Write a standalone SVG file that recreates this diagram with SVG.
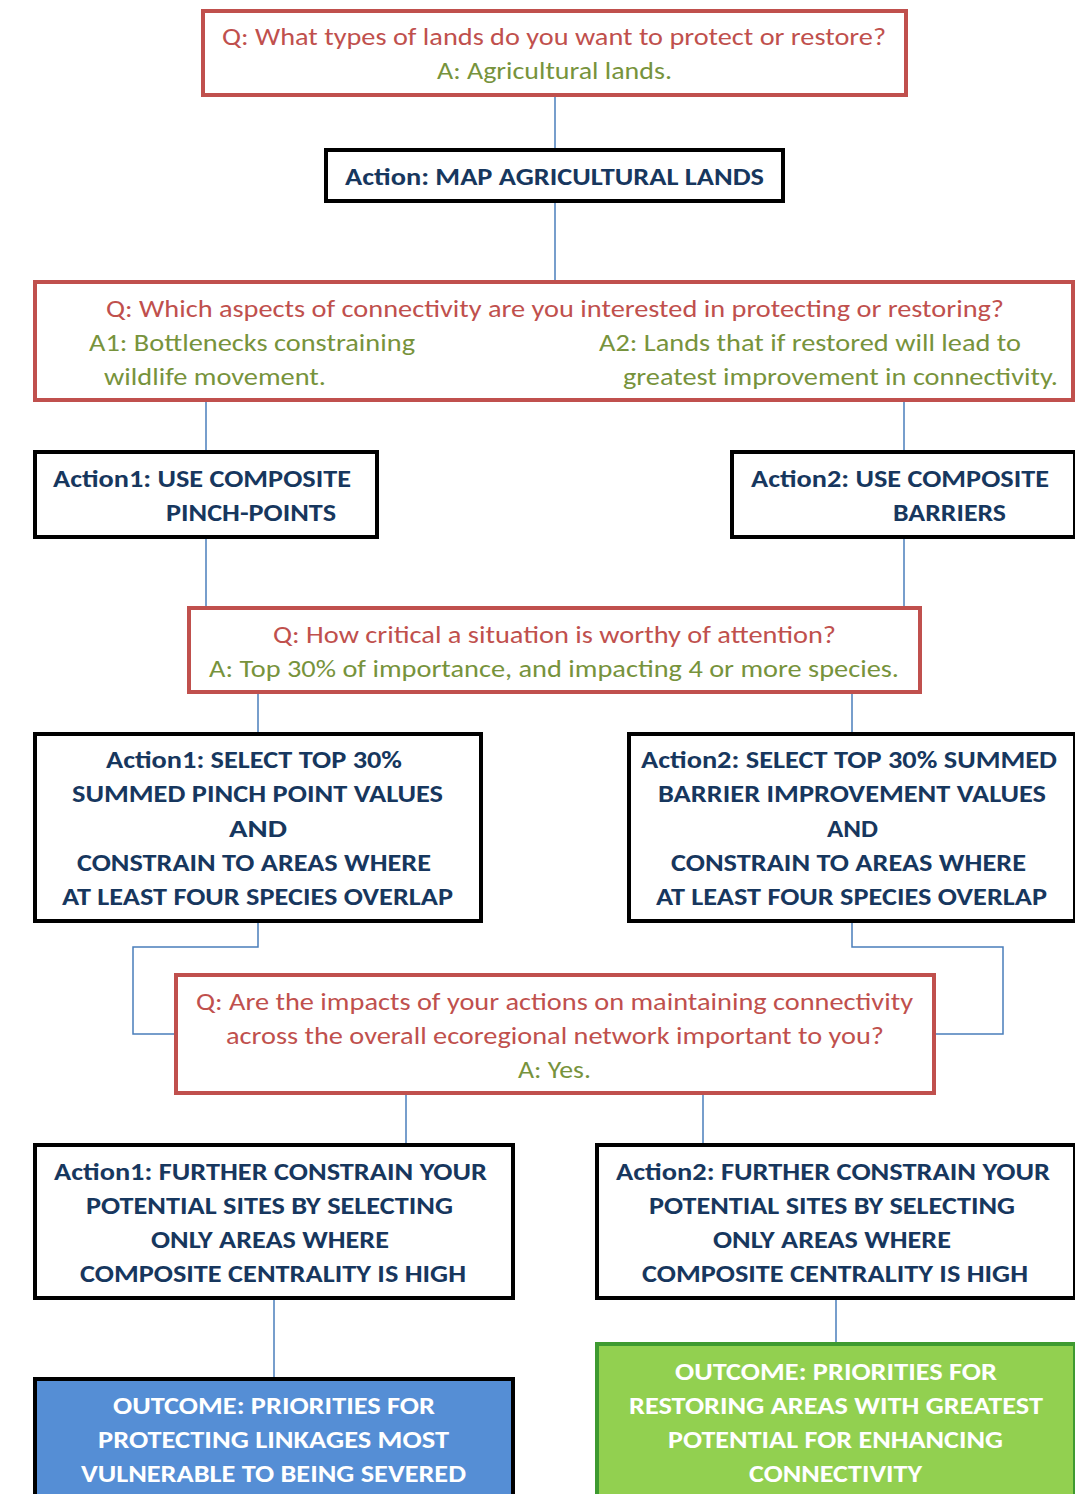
<svg xmlns="http://www.w3.org/2000/svg" width="1075" height="1494" viewBox="0 0 1075 1494">
<style>
text{font-family:Carlito,Lato,"Open Sans",sans-serif;font-size:25px}
.q{fill:#C0504D}
.a{fill:#77933C}
.b{fill:#17375E;font-weight:bold}
.w{fill:#FFFFFF;font-weight:bold}
.rb{fill:#FFFFFF;stroke:#C0504D;stroke-width:4}
.kb{fill:#FFFFFF;stroke:#000000;stroke-width:4}
.c{fill:none;stroke:#4A7EBB;stroke-width:1.5}
</style>
<rect width="1075" height="1494" fill="#FFFFFF"/>
<g id="connectors">
<line class="c" x1="555" y1="96" x2="555" y2="149"/>
<line class="c" x1="555" y1="202" x2="555" y2="281"/>
<line class="c" x1="206" y1="401" x2="206" y2="451"/>
<line class="c" x1="904" y1="401" x2="904" y2="451"/>
<line class="c" x1="206" y1="538" x2="206" y2="607"/>
<line class="c" x1="904" y1="538" x2="904" y2="607"/>
<line class="c" x1="258" y1="693" x2="258" y2="733"/>
<line class="c" x1="852" y1="693" x2="852" y2="733"/>
<polyline class="c" points="258,922 258,947 133,947 133,1034 175,1034"/>
<polyline class="c" points="852,922 852,947 1003,947 1003,1034 935,1034"/>
<line class="c" x1="406" y1="1094" x2="406" y2="1144"/>
<line class="c" x1="703" y1="1094" x2="703" y2="1144"/>
<line class="c" x1="274" y1="1299" x2="274" y2="1378"/>
<line class="c" x1="836" y1="1299" x2="836" y2="1343"/>
</g>
<g id="q1">
<rect class="rb" x="203" y="11" width="703" height="84"/>
<text class="q" x="222" y="45" textLength="664" lengthAdjust="spacingAndGlyphs">Q: What types of lands do you want to protect or restore?</text>
<text class="a" x="437" y="79" textLength="235" lengthAdjust="spacingAndGlyphs">A: Agricultural lands.</text>
</g>
<g id="action0">
<rect class="kb" x="326" y="150" width="457" height="51"/>
<text class="b" x="345" y="185" textLength="419" lengthAdjust="spacingAndGlyphs">Action: MAP AGRICULTURAL LANDS</text>
</g>
<g id="q2">
<rect class="rb" x="35" y="282" width="1038" height="118"/>
<text class="q" x="106" y="317" textLength="898" lengthAdjust="spacingAndGlyphs">Q: Which aspects of connectivity are you interested in protecting or restoring?</text>
<text class="a" x="89" y="351" textLength="326" lengthAdjust="spacingAndGlyphs">A1: Bottlenecks constraining</text>
<text class="a" x="104" y="385" textLength="222" lengthAdjust="spacingAndGlyphs">wildlife movement.</text>
<text class="a" x="599" y="351" textLength="422" lengthAdjust="spacingAndGlyphs">A2: Lands that if restored will lead to</text>
<text class="a" x="623" y="385" textLength="435" lengthAdjust="spacingAndGlyphs">greatest improvement in connectivity.</text>
</g>
<g id="action1a">
<rect class="kb" x="35" y="452" width="342" height="85"/>
<text class="b" x="53" y="487" textLength="298" lengthAdjust="spacingAndGlyphs">Action1: USE COMPOSITE</text>
<text class="b" x="166" y="521" textLength="170" lengthAdjust="spacingAndGlyphs">PINCH-POINTS</text>
</g>
<g id="action2a">
<rect class="kb" x="732" y="452" width="343" height="85"/>
<text class="b" x="751" y="487" textLength="298" lengthAdjust="spacingAndGlyphs">Action2: USE COMPOSITE</text>
<text class="b" x="893" y="521" textLength="113" lengthAdjust="spacingAndGlyphs">BARRIERS</text>
</g>
<g id="q3">
<rect class="rb" x="189" y="608" width="731" height="84"/>
<text class="q" x="273" y="643" textLength="563" lengthAdjust="spacingAndGlyphs">Q: How critical a situation is worthy of attention?</text>
<text class="a" x="209" y="677" textLength="690" lengthAdjust="spacingAndGlyphs">A: Top 30% of importance, and impacting 4 or more species.</text>
</g>
<g id="action1b">
<rect class="kb" x="35" y="734" width="446" height="187"/>
<text class="b" x="106" y="768" textLength="296" lengthAdjust="spacingAndGlyphs">Action1: SELECT TOP 30%</text>
<text class="b" x="72" y="802" textLength="371" lengthAdjust="spacingAndGlyphs">SUMMED PINCH POINT VALUES</text>
<text class="b" x="229" y="837" textLength="58" lengthAdjust="spacingAndGlyphs">AND</text>
<text class="b" x="77" y="871" textLength="354" lengthAdjust="spacingAndGlyphs">CONSTRAIN TO AREAS WHERE</text>
<text class="b" x="62" y="905" textLength="391" lengthAdjust="spacingAndGlyphs">AT LEAST FOUR SPECIES OVERLAP</text>
</g>
<g id="action2b">
<rect class="kb" x="629" y="734" width="446" height="187"/>
<text class="b" x="641" y="768" textLength="416" lengthAdjust="spacingAndGlyphs">Action2: SELECT TOP 30% SUMMED</text>
<text class="b" x="658" y="802" textLength="388" lengthAdjust="spacingAndGlyphs">BARRIER IMPROVEMENT VALUES</text>
<text class="b" x="827" y="837" textLength="51" lengthAdjust="spacingAndGlyphs">AND</text>
<text class="b" x="671" y="871" textLength="355" lengthAdjust="spacingAndGlyphs">CONSTRAIN TO AREAS WHERE</text>
<text class="b" x="656" y="905" textLength="391" lengthAdjust="spacingAndGlyphs">AT LEAST FOUR SPECIES OVERLAP</text>
</g>
<g id="q4">
<rect class="rb" x="176" y="975" width="758" height="118"/>
<text class="q" x="196" y="1010" textLength="717" lengthAdjust="spacingAndGlyphs">Q: Are the impacts of your actions on maintaining connectivity</text>
<text class="q" x="226" y="1044" textLength="658" lengthAdjust="spacingAndGlyphs">across the overall ecoregional network important to you?</text>
<text class="a" x="518" y="1078" textLength="73" lengthAdjust="spacingAndGlyphs">A: Yes.</text>
</g>
<g id="action1c">
<rect class="kb" x="35" y="1145" width="478" height="153"/>
<text class="b" x="54" y="1180" textLength="433" lengthAdjust="spacingAndGlyphs">Action1: FURTHER CONSTRAIN YOUR</text>
<text class="b" x="86" y="1214" textLength="367" lengthAdjust="spacingAndGlyphs">POTENTIAL SITES BY SELECTING</text>
<text class="b" x="151" y="1248" textLength="238" lengthAdjust="spacingAndGlyphs">ONLY AREAS WHERE</text>
<text class="b" x="80" y="1282" textLength="386" lengthAdjust="spacingAndGlyphs">COMPOSITE CENTRALITY IS HIGH</text>
</g>
<g id="action2c">
<rect class="kb" x="597" y="1145" width="478" height="153"/>
<text class="b" x="616" y="1180" textLength="434" lengthAdjust="spacingAndGlyphs">Action2: FURTHER CONSTRAIN YOUR</text>
<text class="b" x="649" y="1214" textLength="366" lengthAdjust="spacingAndGlyphs">POTENTIAL SITES BY SELECTING</text>
<text class="b" x="713" y="1248" textLength="238" lengthAdjust="spacingAndGlyphs">ONLY AREAS WHERE</text>
<text class="b" x="642" y="1282" textLength="386" lengthAdjust="spacingAndGlyphs">COMPOSITE CENTRALITY IS HIGH</text>
</g>
<g id="outcome1">
<rect x="35" y="1379" width="478" height="130" fill="#558ED5" stroke="#000000" stroke-width="4"/>
<text class="w" x="113" y="1414" textLength="322" lengthAdjust="spacingAndGlyphs">OUTCOME: PRIORITIES FOR</text>
<text class="w" x="98" y="1448" textLength="351" lengthAdjust="spacingAndGlyphs">PROTECTING LINKAGES MOST</text>
<text class="w" x="81" y="1482" textLength="385" lengthAdjust="spacingAndGlyphs">VULNERABLE TO BEING SEVERED</text>
</g>
<g id="outcome2">
<rect x="597" y="1344" width="478" height="165" fill="#92D050" stroke="#3E9A30" stroke-width="4"/>
<text class="w" x="675" y="1380" textLength="322" lengthAdjust="spacingAndGlyphs">OUTCOME: PRIORITIES FOR</text>
<text class="w" x="629" y="1414" textLength="414" lengthAdjust="spacingAndGlyphs">RESTORING AREAS WITH GREATEST</text>
<text class="w" x="668" y="1448" textLength="335" lengthAdjust="spacingAndGlyphs">POTENTIAL FOR ENHANCING</text>
<text class="w" x="749" y="1482" textLength="173" lengthAdjust="spacingAndGlyphs">CONNECTIVITY</text>
</g>
</svg>
